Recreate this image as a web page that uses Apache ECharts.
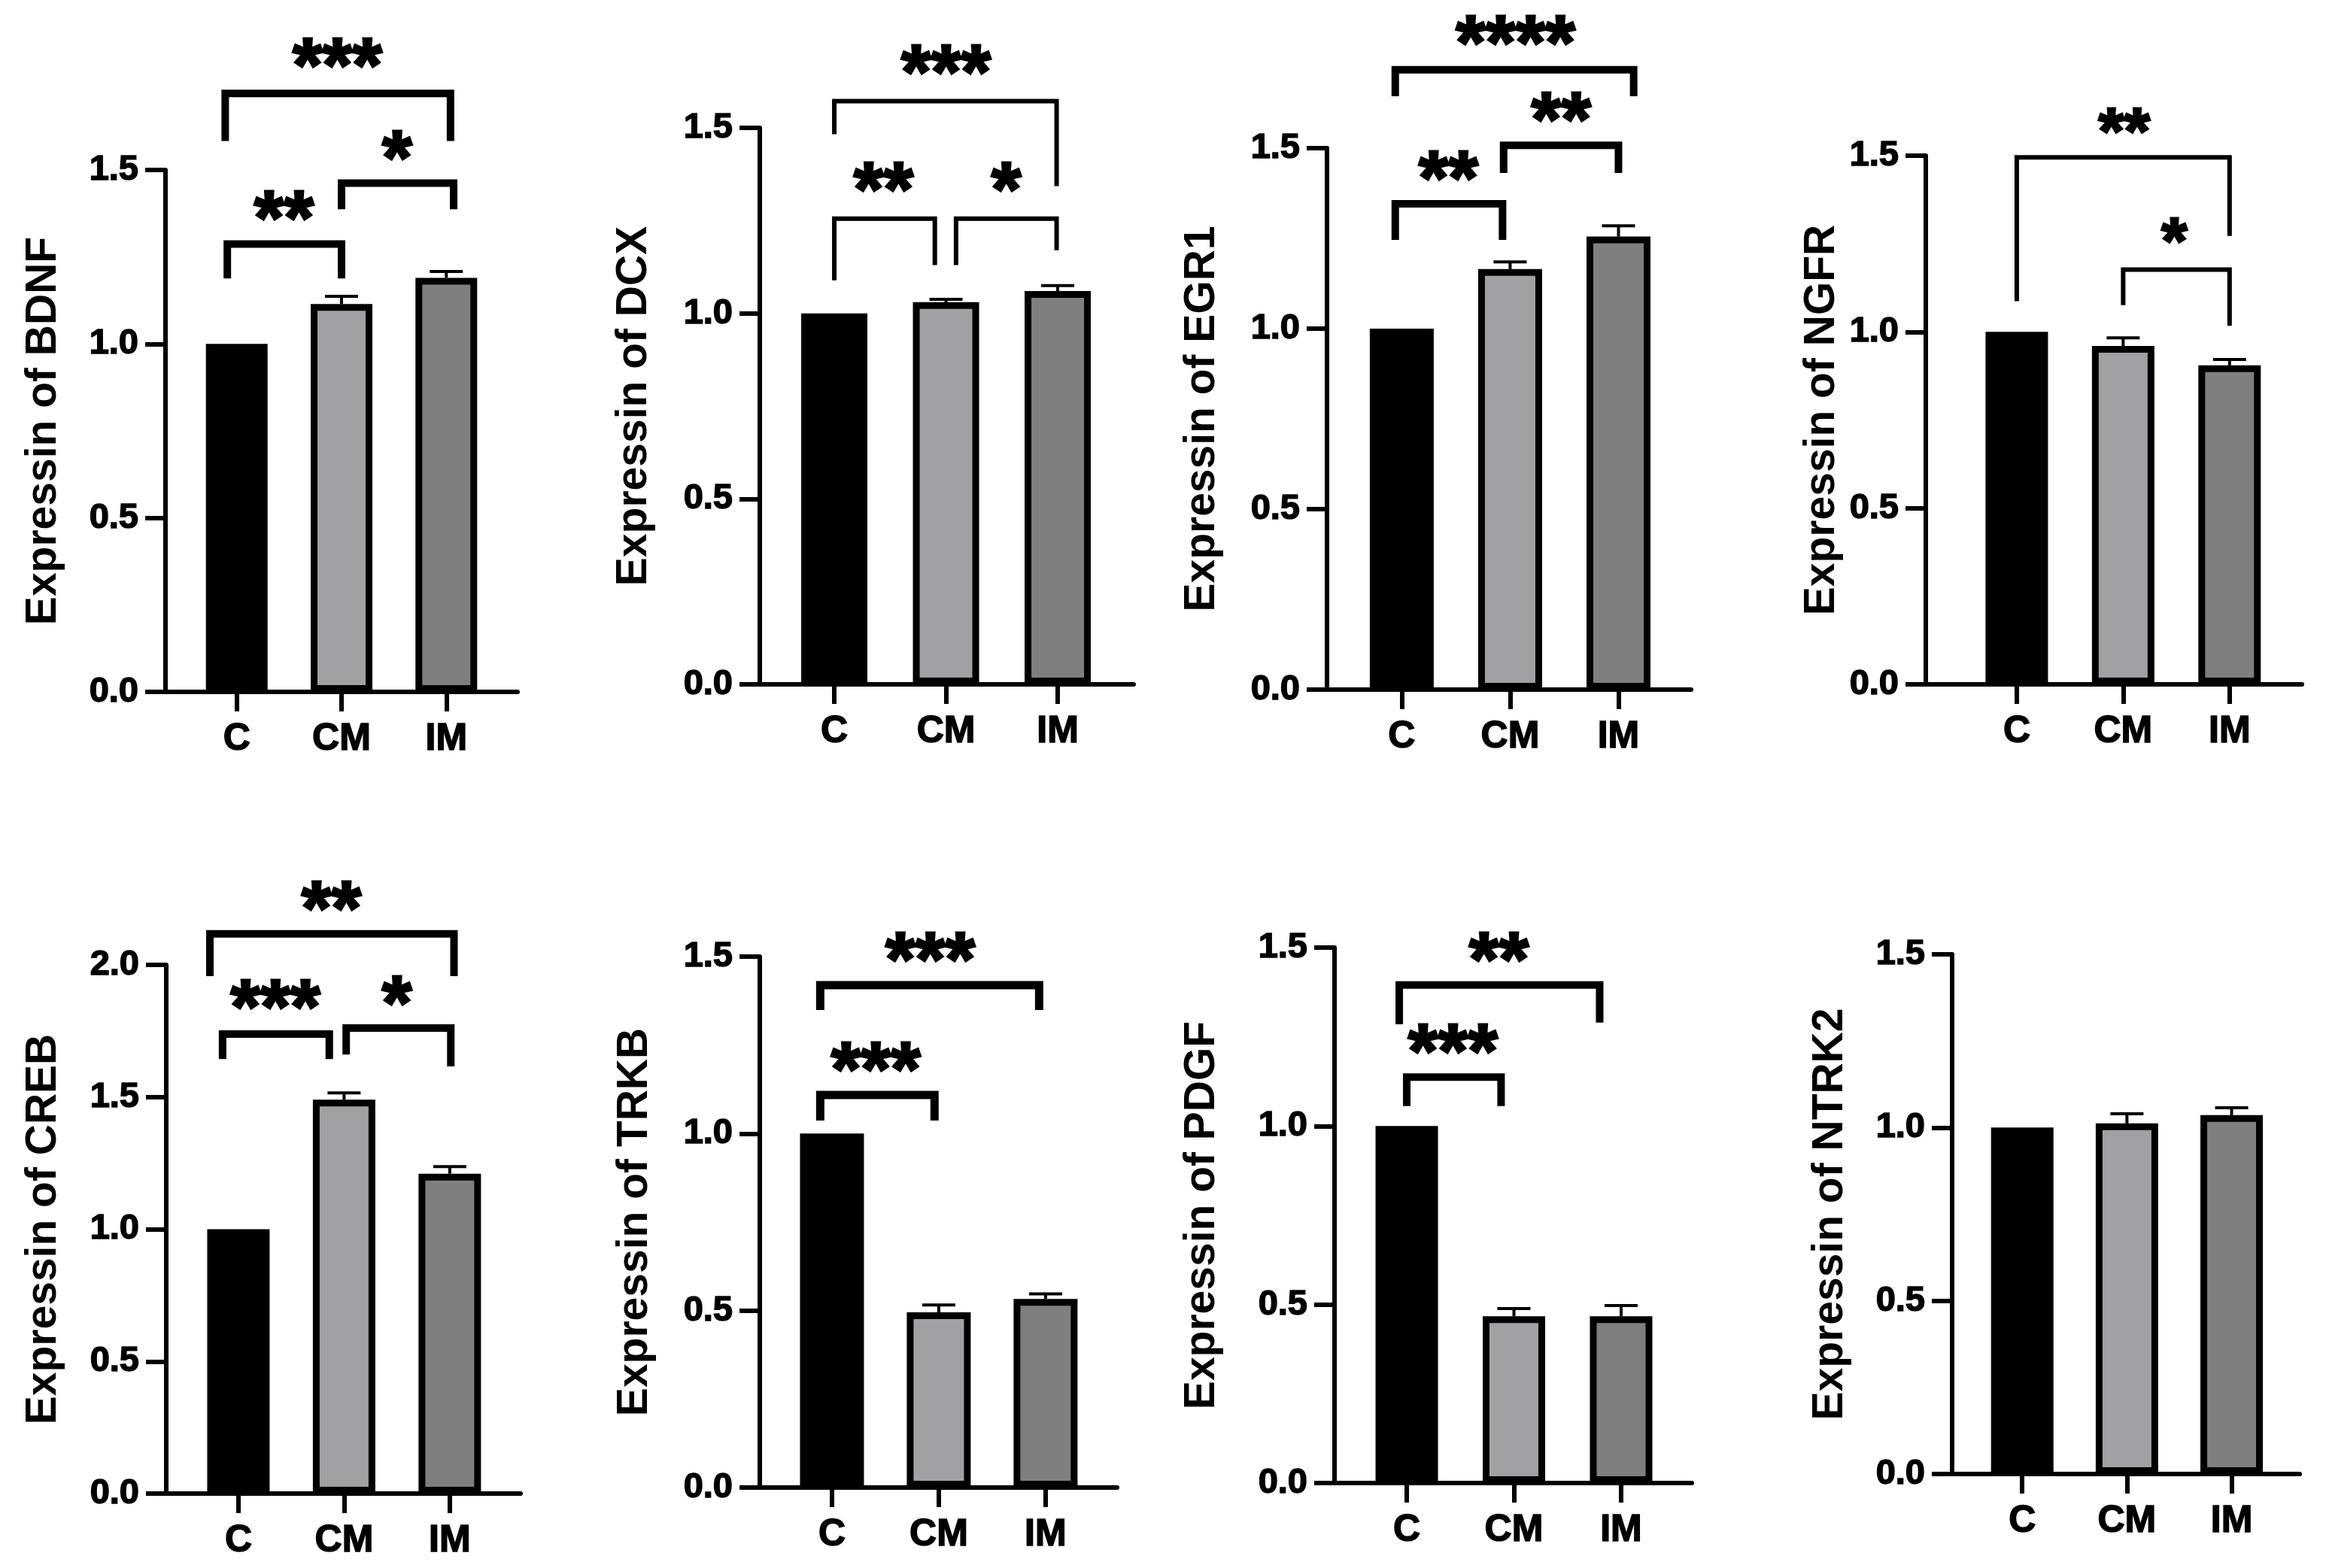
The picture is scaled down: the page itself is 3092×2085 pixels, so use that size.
<!DOCTYPE html>
<html>
<head>
<meta charset="utf-8">
<script src="https://cdn.jsdelivr.net/npm/echarts@6/dist/echarts.min.js"></script>
<style>
  html, body { margin: 0; padding: 0; background: #fff; }
  #app { width: 3092px; height: 2085px; }
</style>
</head>
<body>
<div id="app"></div>
<script>
const categories = ['C', 'CM', 'IM'];
const barColors = ['#000000', '#a1a1a5', '#7f7f7f'];

// mean and SEM per gene (C, CM, IM)
const meanBDNF = [1.0, 1.115, 1.19];
const semBDNF = [0, 0.022, 0.018];
const meanDCX = [1.0, 1.03, 1.06];
const semDCX = [0, 0.008, 0.015];
const meanEGR1 = [1.0, 1.165, 1.255];
const semEGR1 = [0, 0.02, 0.03];
const meanNGFR = [1.0, 0.96, 0.905];
const semNGFR = [0, 0.023, 0.017];
const meanCREB = [1.0, 1.49, 1.21];
const semCREB = [0, 0.026, 0.027];
const meanTRKB = [1.0, 0.495, 0.533];
const semTRKB = [0, 0.021, 0.014];
const meanPDGF = [1.0, 0.467, 0.467];
const semPDGF = [0, 0.022, 0.03];
const meanNTRK2 = [1.0, 1.012, 1.036];
const semNTRK2 = [0, 0.028, 0.021];

// significance brackets: [xLeft, xRight, yTop, yLeftEnd, yRightEnd, xStars, yStars]
const sigBDNF = [[-0.09, 1.0, 1.287, 1.188, 1.188, 0.45, 1.387], [1.0, 2.07, 1.462, 1.387, 1.387, 1.53, 1.56], [-0.11, 2.04, 1.72, 1.583, 1.583, 0.96, 1.825]];
const starsBDNF = ['**', '*', '***'];
const sigDCX = [[0.0, 0.9, 1.255, 1.089, 1.13, 0.44, 1.357], [1.09, 1.99, 1.255, 1.13, 1.17, 1.54, 1.357], [0.0, 1.99, 1.572, 1.483, 1.343, 1.0, 1.673]];
const starsDCX = ['**', '*', '***'];
const sigEGR1 = [[-0.06, 0.93, 1.346, 1.246, 1.246, 0.43, 1.44], [0.94, 2.0, 1.508, 1.431, 1.431, 1.47, 1.602], [-0.06, 2.14, 1.717, 1.644, 1.644, 1.05, 1.816]];
const starsEGR1 = ['**', '**', '****'];
const sigNGFR = [[0.0, 2.0, 1.495, 1.087, 1.272, 1.01, 1.59], [1.0, 2.0, 1.177, 1.076, 1.017, 1.48, 1.279]];
const starsNGFR = ['**', '*'];
const sigCREB = [[-0.15, 0.86, 1.738, 1.644, 1.644, 0.35, 1.872], [1.02, 2.01, 1.761, 1.661, 1.616, 1.5, 1.886], [-0.27, 2.04, 2.117, 1.957, 1.957, 0.88, 2.245]];
const starsCREB = ['***', '*', '**'];
const sigTRKB = [[-0.11, 0.96, 1.109, 1.037, 1.037, 0.41, 1.205], [-0.11, 1.94, 1.419, 1.349, 1.349, 0.92, 1.515]];
const starsTRKB = ['***', '***'];
const sigPDGF = [[0.0, 0.88, 1.137, 1.056, 1.056, 0.43, 1.232], [-0.07, 1.8, 1.395, 1.285, 1.29, 0.86, 1.49]];
const starsPDGF = ['***', '**'];
const sigNTRK2 = [];
const starsNTRK2 = [];

const panels = [
  { gene: 'BDNF', mean: meanBDNF, sem: semBDNF, sig: sigBDNF, stars: starsBDNF, yMax: 1.5,
    box: [220, 226, 468, 694], xr: [-0.68, 2.68], barOuter: 91, lw: 10, gap: 163, star: 102 },
  { gene: 'DCX', mean: meanDCX, sem: semDCX, sig: sigDCX, stars: starsDCX, yMax: 1.5,
    box: [1010, 170, 497, 740], xr: [-0.667, 2.68], barOuter: 97, lw: 6, gap: 168, star: 102 },
  { gene: 'EGR1', mean: meanEGR1, sem: semEGR1, sig: sigEGR1, stars: starsEGR1, yMax: 1.5,
    box: [1764, 197, 484, 720], xr: [-0.69, 2.67], barOuter: 94, lw: 10, gap: 167, star: 102 },
  { gene: 'NGFR', mean: meanNGFR, sem: semNGFR, sig: sigNGFR, stars: starsNGFR, yMax: 1.5,
    box: [2560, 207, 500, 703], xr: [-0.855, 2.68], barOuter: 92, lw: 6, gap: 139, star: 88 },
  { gene: 'CREB', mean: meanCREB, sem: semCREB, sig: sigCREB, stars: starsCREB, yMax: 2.0,
    box: [221, 1283, 471, 703], xr: [-0.683, 2.67], barOuter: 92, lw: 10, gap: 164, star: 102 },
  { gene: 'TRKB', mean: meanTRKB, sem: semTRKB, sig: sigTRKB, stars: starsTRKB, yMax: 1.5,
    box: [1010, 1272, 475, 706], xr: [-0.676, 2.67], barOuter: 94, lw: 11, gap: 167, star: 102 },
  { gene: 'PDGF', mean: meanPDGF, sem: semPDGF, sig: sigPDGF, stars: starsPDGF, yMax: 1.5,
    box: [1774, 1260, 475, 712], xr: [-0.674, 2.66], barOuter: 92, lw: 10, gap: 177, star: 102 },
  { gene: 'NTRK2', mean: meanNTRK2, sem: semNTRK2, sig: sigNTRK2, stars: starsNTRK2, yMax: 1.5,
    box: [2595, 1269, 462, 691], xr: [-0.67, 2.65], barOuter: 92, lw: 10, gap: 163, star: 102 }
];

const FONT = '"Liberation Sans", Arial, sans-serif';

const grid = [], xAxis = [], yAxis = [], series = [];

panels.forEach((p, i) => {
  grid.push({ left: p.box[0], top: p.box[1], width: p.box[2], height: p.box[3] });
  xAxis.push({
    type: 'value', gridIndex: i, min: p.xr[0], max: p.xr[1],
    splitLine: { show: false },
    axisLine: { onZero: false, lineStyle: { color: '#000', width: 6 } },
    axisTick: { customValues: [0, 1, 2], length: 26, lineStyle: { color: '#000', width: 6 } },
    axisLabel: {
      customValues: [0, 1, 2],
      formatter: v => categories[Math.round(v)],
      color: '#000', fontSize: 50, fontWeight: 'bold', fontFamily: FONT, margin: 38,
      textBorderColor: '#000', textBorderWidth: 1.5
    }
  });
  yAxis.push({
    type: 'value', gridIndex: i, min: 0, max: p.yMax, interval: 0.5,
    name: 'Expressin of ' + p.gene, nameLocation: 'middle', nameGap: p.gap - 30,
    nameTextStyle: { color: '#000', fontSize: 57, fontWeight: 'bold', fontFamily: FONT },
    splitLine: { show: false },
    axisLine: { show: true, onZero: false, lineStyle: { color: '#000', width: 6 } },
    axisTick: { show: true, length: 27, lineStyle: { color: '#000', width: 6 } },
    axisLabel: {
      formatter: v => v.toFixed(1),
      color: '#000', fontSize: 47, fontWeight: 'bold', fontFamily: FONT, margin: 36,
      textBorderColor: '#000', textBorderWidth: 1.5
    }
  });

  series.push({
    type: 'bar', xAxisIndex: i, yAxisIndex: i,
    barWidth: p.barOuter - 9,
    data: p.mean.map((m, k) => ({
      value: [k, m],
      itemStyle: { color: barColors[k], borderColor: '#000', borderWidth: 9 }
    })),
    z: 2
  });

  series.push({
    type: 'custom', xAxisIndex: i, yAxisIndex: i, z: 3,
    data: p.mean.map((m, k) => [k, m, p.sem[k]]),
    renderItem: (params, api) => {
      const e = api.value(2);
      if (!e) return;
      const a = api.coord([api.value(0), api.value(1)]);
      const b = api.coord([api.value(0), api.value(1) + e]);
      const st = { stroke: '#000', lineWidth: 4 };
      return {
        type: 'group',
        children: [
          { type: 'line', shape: { x1: a[0], y1: a[1], x2: b[0], y2: b[1] }, style: st },
          { type: 'line', shape: { x1: b[0] - 22, y1: b[1], x2: b[0] + 22, y2: b[1] }, style: st }
        ]
      };
    }
  });

  if (p.sig.length) {
    series.push({
      type: 'custom', xAxisIndex: i, yAxisIndex: i, z: 4, clip: false,
      data: p.sig,
      renderItem: (params, api) => {
        const d = p.sig[params.dataIndex];
        const pts = [
          api.coord([d[0], d[3]]), api.coord([d[0], d[2]]),
          api.coord([d[1], d[2]]), api.coord([d[1], d[4]])
        ];
        const t = api.coord([d[5], d[6]]);
        return {
          type: 'group',
          children: [
            { type: 'polyline', shape: { points: pts },
              style: { stroke: '#000', lineWidth: p.lw, fill: null, lineJoin: 'miter', lineCap: 'butt' } },
            { type: 'text', x: t[0], y: t[1] + p.star * 0.168,
              style: { text: p.stars[params.dataIndex], fill: '#000', align: 'center', verticalAlign: 'middle',
                font: 'bold ' + p.star + 'px ' + FONT, stroke: '#000', lineWidth: 3 } }
          ]
        };
      }
    });
  }
});

const myChart = echarts.init(document.getElementById('app'));
myChart.setOption({
  backgroundColor: '#ffffff',
  animation: false,
  grid, xAxis, yAxis, series
});
</script>
</body>
</html>
